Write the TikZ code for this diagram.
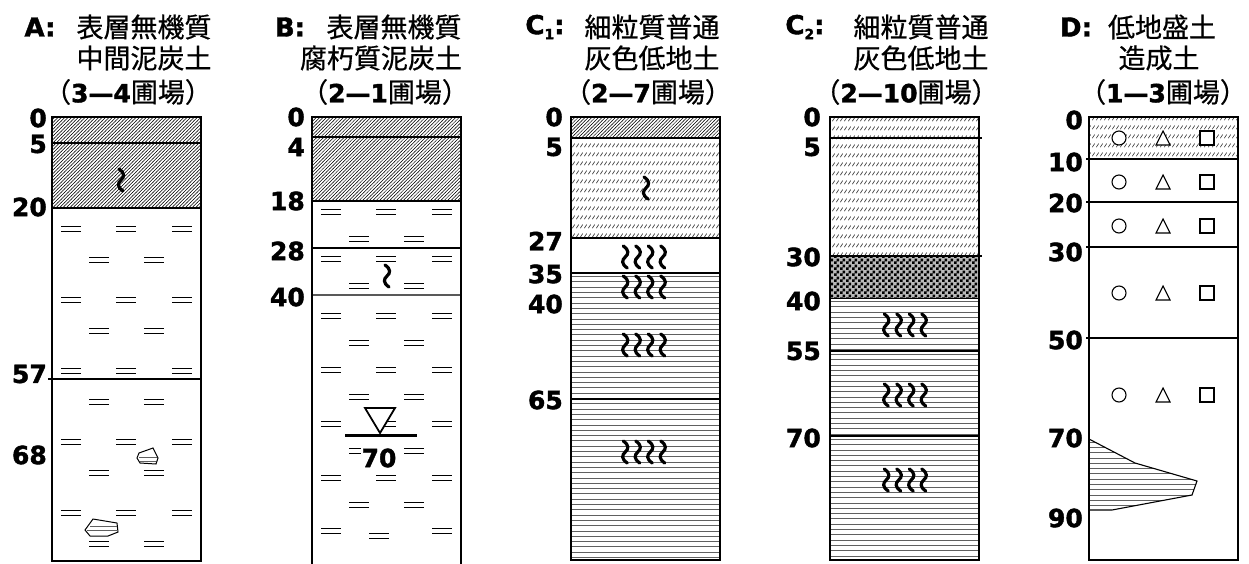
\documentclass[tikz,border=0pt]{standalone}
\usepackage{fontspec}
\setmainfont{Liberation Sans}
\newfontfamily\jpfont{Noto Sans CJK JP}[FakeBold=0.6]
\newfontfamily\depthfont{DejaVu Sans}[BoldFeatures={FakeBold=1.6}]
\usetikzlibrary{patterns}

% layer fills
\pgfdeclarepatternformonly{peat}{\pgfqpoint{-1pt}{-1pt}}{\pgfqpoint{4.5pt}{4.5pt}}{\pgfqpoint{3.4pt}{3.4pt}}{
  \pgfsetlinewidth{0.5pt}
  \pgfpathmoveto{\pgfqpoint{-0.2pt}{-0.2pt}}
  \pgfpathlineto{\pgfqpoint{3.6pt}{3.6pt}}
  \pgfusepath{stroke}
}
\pgfdeclarepatternformonly{slashrows}{\pgfqpoint{0pt}{0pt}}{\pgfqpoint{4pt}{9pt}}{\pgfqpoint{4pt}{9pt}}{
  \pgfsetlinewidth{0.8pt}
  \pgfpathmoveto{\pgfqpoint{0.4pt}{2pt}}
  \pgfpathlineto{\pgfqpoint{3.4pt}{6pt}}
  \pgfusepath{stroke}
}
\pgfdeclarepatternformonly{checker}{\pgfqpoint{0pt}{0pt}}{\pgfqpoint{6pt}{6pt}}{\pgfqpoint{6pt}{6pt}}{
  \pgfpathrectangle{\pgfqpoint{0pt}{0pt}}{\pgfqpoint{3pt}{3pt}}
  \pgfpathrectangle{\pgfqpoint{3pt}{3pt}}{\pgfqpoint{3pt}{3pt}}
  \pgfusepath{fill}
}

\newcommand\hdfont{\jpfont\fontsize{27}{27}\selectfont}
\newcommand\depfont{\depthfont\bfseries\fontsize{25}{25}\selectfont}
\newcommand\plot[2]{（{\depfont #1—#2}圃場）}

\tikzset{
  box/.style={line width=2.5pt},
  seam/.style={line width=1.2pt},
  seamb/.style={line width=2.4pt},
  hl/.style={line width=0.7pt, gray!75!black},
  dep/.style={anchor=east, inner sep=0pt, font=\depfont},
  hd/.style={inner sep=0pt, font=\hdfont},
  tag/.style={inner sep=0pt, font=\depthfont\bfseries\fontsize{26}{26}\selectfont},
  sym/.style={line width=1.1pt, fill=white},
  clay/.pic={\draw[line width=1pt] (-10,-2.5) -- (10,-2.5) (-10,2.5) -- (10,2.5);},
  wig/.pic={\draw[line width=3.2pt, line cap=round] (-2,-11) .. controls (4,-7) and (3.5,-3) .. (0,0) .. controls (-3.5,3) and (-4,7) .. (2,11);},
  wig4/.pic={\foreach \i in {-18.75,-6.25,6.25,18.75}
    \draw[line width=3.2pt, line cap=round] (\i-2,-11) .. controls (\i+4,-7) and (\i+3.5,-3) .. (\i,0) .. controls (\i-3.5,3) and (\i-4,7) .. (\i+2,11);}
}

\begin{document}
\begin{tikzpicture}[x=1pt, y=-1pt]
\useasboundingbox (0,0) rectangle (1249,563);

% headings
\node[tag] (aTag) at (40,27) {A:};
\node[hd] (aT1) at (144,27) {表層無機質};
\node[hd] (aT2) at (144,58) {中間泥炭土};
\node[hd] (aT3) at (128,92) {\plot{3}{4}};

\node[tag] (bTag) at (290,27) {B:};
\node[hd] (bT1) at (394,27) {表層無機質};
\node[hd] (bT2) at (381,58) {腐朽質泥炭土};
\node[hd] (bT3) at (385,92) {\plot{2}{1}};

\node[tag] (c1Tag) at (545,27) {C\raisebox{-5pt}{\fontsize{14}{14}\selectfont 1}:};
\node[hd] (c1T1) at (652,27) {細粒質普通};
\node[hd] (c1T2) at (652,58) {灰色低地土};
\node[hd] (c1T3) at (648,92) {\plot{2}{7}};

\node[tag] (c2Tag) at (805,27) {C\raisebox{-5pt}{\fontsize{14}{14}\selectfont 2}:};
\node[hd] (c2T1) at (921,27) {細粒質普通};
\node[hd] (c2T2) at (921,58) {灰色低地土};
\node[hd] (c2T3) at (906,92) {\plot{2}{10}};

\node[tag] (dTag) at (1076,27) {D:};
\node[hd] (dT1) at (1162,27) {低地盛土};
\node[hd] (dT2) at (1159,58) {造成土};
\node[hd] (dT3) at (1163,92) {\plot{1}{3}};

% depth marks
\foreach \d/\y in {0/118,5/144,20/207,57/374,68/455}
  \node[dep] (a\d) at (47,\y) {\d};
\foreach \d/\y in {0/117,4/147,18/201,28/251,40/297}
  \node[dep] (b\d) at (305,\y) {\d};
\foreach \d/\y in {0/117,5/147,27/241,35/274,40/304,65/400}
  \node[dep] (c1\d) at (563,\y) {\d};
\foreach \d/\y in {0/117,5/147,30/257,40/301,55/351,70/438}
  \node[dep] (c2\d) at (821,\y) {\d};
\foreach \d/\y in {0/120,10/162,20/203,30/252,50/340,70/438,90/518}
  \node[dep] (d\d) at (1083,\y) {\d};

% column A
\fill[pattern=peat] (52,117) rectangle (201,208);
\draw[seam] (52,143) -- (201,143);
\draw[seam] (52,208) -- (201,208);
\draw[seamb] (48,379) -- (201,379);
\pic at (121,180) {wig};
\foreach \y in {229,300,371,442,513}
  \foreach \x in {71,126,182} \pic at (\x,\y) {clay};
\foreach \y in {260,331,402,473,544}
  \foreach \x in {99,154} \pic at (\x,\y) {clay};
\draw[line width=1pt, fill=white] (137,458) -- (139,453) -- (153,448) -- (158,458) -- (156,464) -- (140,463) -- cycle;
\draw[hl] (139,457) -- (157,457) (140,461) -- (156,461);
\draw[line width=1pt, fill=white] (85,530) -- (93,519) -- (117,523) -- (118,532) -- (108,536) -- (90,536) -- cycle;
\draw[hl] (90,526) -- (117,526) (87,530) -- (117,530);
\draw[box] (52,117) rectangle (201,561);

% column B
\fill[pattern=peat] (312,117) rectangle (461,201);
\draw[seam] (312,137) -- (461,137);
\draw[seamb] (312,201) -- (461,201);
\draw[seamb] (312,248) -- (461,248);
\draw[seam, gray!70!black] (312,295) -- (461,295);
\foreach \y in {212,259,316,370,424,478}
  \foreach \x in {331,386,442} \pic at (\x,\y) {clay};
\foreach \y in {239,286,343,397,451,505}
  \foreach \x in {359,414} \pic at (\x,\y) {clay};
\pic at (331,531) {clay};
\pic at (442,531) {clay};
\pic at (379,536) {clay};
\pic at (387,276) {wig};
\draw[line width=1.8pt, fill=white] (365,408) -- (395,408) -- (380,433) -- cycle;
\draw[line width=3pt] (345,435) -- (417,435);
\node[font=\depfont, fill=white, inner sep=1pt] (wt) at (379,458) {70};
\draw[box] (312,564) -- (312,117) -- (461,117) -- (461,564);

% column C1
\fill[pattern=peat] (571,117) rectangle (720,138);
\fill[pattern=slashrows, pattern color=black!75] (571,138) rectangle (720,238);
\foreach \y in {276.5,281.8,...,558} \draw[hl] (571,\y) -- (720,\y);
\draw[seam] (571,138) -- (720,138);
\draw[seam] (571,238) -- (720,238);
\draw[seamb] (571,273) -- (720,273);
\draw[line width=2.7pt] (571,399) -- (720,399);
\pic at (646,188) {wig};
\foreach \y in {257,287,345,452} \pic at (644,\y) {wig4};
\draw[box] (571,117) rectangle (720,560);

% column C2
\fill[pattern=slashrows, pattern color=black!75] (830,117) rectangle (979,256);
\fill[gray!55] (830,256) rectangle (979,298);
\fill[pattern=checker, pattern color=black] (830,256) rectangle (979,298);
\foreach \y in {301.5,306.8,...,558} \draw[hl] (830,\y) -- (979,\y);
\draw[seam] (830,138) -- (982,138);
\draw[seam] (830,256) -- (982,256);
\draw[line width=0.8pt] (830,298) -- (979,298);
\draw[seamb] (830,351) -- (979,351);
\draw[seamb] (830,436) -- (979,436);
\foreach \y in {325,395,480} \pic at (905,\y) {wig4};
\draw[box] (830,117) rectangle (979,560);

% column D
\fill[pattern=slashrows, pattern color=black!75] (1089,117) rectangle (1238,159);
\foreach \y in {159,202,247,338} \draw[seam] (1086,\y) -- (1238,\y);
\foreach \y in {138,182,226,293,395} {
  \draw[sym] (1119,\y) circle (7pt);
  \draw[sym] (1163,\y-7) -- (1170,\y+7) -- (1156,\y+7) -- cycle;
  \draw[sym] (1200,\y-7) rectangle (1214,\y+7);
}
\begin{scope}
  \clip (1089,439) -- (1135,463) -- (1197,481) -- (1192,495) -- (1112,510) -- (1089,510) -- cycle;
  \foreach \y in {442,447.3,...,512} \draw[hl] (1089,\y) -- (1200,\y);
\end{scope}
\draw[line width=1.1pt] (1089,439) -- (1135,463) -- (1197,481) -- (1192,495) -- (1112,510) -- (1089,510);
\draw[box] (1089,117) rectangle (1238,560);
\end{tikzpicture}
\end{document}
